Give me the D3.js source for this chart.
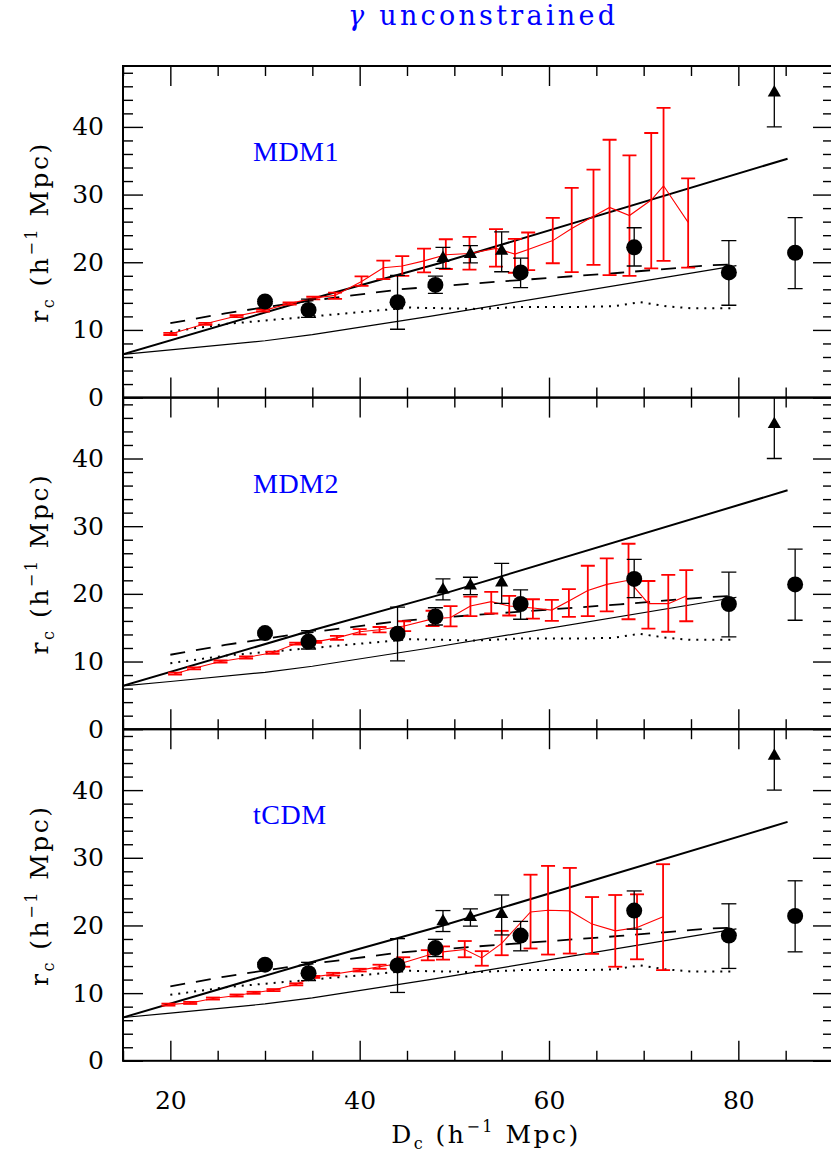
<!DOCTYPE html>
<html><head><meta charset="utf-8">
<script src="https://cdn.jsdelivr.net/npm/d3@7"></script>
<style>body{margin:0;background:#fff}</style>
</head><body>
<svg id="c" width="831" height="1159" xmlns="http://www.w3.org/2000/svg"></svg>
<script>
// ---------- data ----------
const panelNames = ["MDM1", "MDM2", "tCDM"];
const yMajorTicks = [0, 10, 20, 30, 40];
const xMajorTicks = [20, 40, 60, 80];

// observed clusters (same in every panel)
const circleD  = [30, 34.6, 44, 48, 57, 69, 79, 86];
const circleR  = [14.2, 12.95, 14.1, 16.65, 18.5, 22.2, 18.5, 21.4];
const circleLo = [13.9, 11.85, 10.1, 15.4, 16.25, 19.45, 13.65, 16.1];
const circleHi = [14.5, 14.55, 18.05, 17.95, 20.6, 25.1, 23.2, 26.6];
const triD  = [48.8, 51.7, 55, 83.8];
const triR  = [20.75, 21.35, 21.8, 45.2];
const triLo = [19.1, 19.9, 18.6, 40.0];
const triHi = [22.2, 22.45, 24.5, 52];

// reference curves (same in every panel)
const thickD = [15, 34.7, 48.8, 85.2];
const thickR = [6.4, 14.5, 20.0, 35.3];
const thinD  = [15, 20, 30, 35, 47.4, 79.8];
const thinR  = [6.4, 7.05, 8.4, 9.3, 12.0, 19.5];
const dashD  = [20, 25.8, 32.6, 38.1, 44.3, 52.4, 67.5, 77, 79.8];
const dashR  = [11.0, 12.45, 13.9, 14.9, 16.0, 16.9, 18.45, 19.55, 19.7];
const dotD   = [20, 26, 34.6, 45.3, 52.4, 57, 63.3, 66.8, 69.6, 72.4, 75, 79.4];
const dotR   = [9.75, 10.9, 11.95, 13.3, 13.1, 13.4, 13.4, 13.5, 14.1, 13.5, 13.2, 13.2];

// model (red) series
const mdm1D  = [20, 23.7, 27, 29.8, 32.6, 35.1, 37.4, 40.2, 42.5, 44.5, 46.8, 49.1, 51.6, 54.4, 56.4, 57.8, 60.4, 62.4, 64.7, 66.4, 68.5, 70.8, 72.1, 74.7];
const mdm1R  = [9.4, 10.9, 12.05, 12.85, 13.9, 14.7, 15.1, 17.15, 19.2, 19.45, 20.2, 21.1, 21.3, 22.05, 21.2, 21.9, 23.2, 25.0, 26.8, 28.1, 26.9, 29.2, 31.3, 25.9];
const mdm1Lo = [9.25, 10.75, 11.9, 12.7, 13.75, 14.5, 14.6, 16.5, 17.5, 18.0, 18.5, 19.0, 18.9, 19.35, 18.45, 18.85, 19.85, 18.55, 19.6, 18.1, 18.0, 19.1, 20.2, 19.2];
const mdm1Hi = [9.55, 11.05, 12.2, 13.0, 14.05, 14.9, 15.5, 17.9, 20.25, 20.9, 22.0, 23.4, 23.75, 24.9, 23.45, 24.4, 26.55, 31.0, 33.7, 38.1, 35.8, 39.1, 42.8, 32.4];

const mdm2D  = [20.5, 22.5, 25.3, 28, 30.8, 33.3, 35.3, 37.6, 40, 42.1, 44.7, 47.7, 49.6, 51.7, 53.9, 55.8, 58.3, 60.3, 62.1, 64.1, 66.1, 68.4, 70.5, 72.6, 74.5];
const mdm2R  = [8.2, 9.0, 10.0, 10.6, 11.3, 12.65, 12.9, 13.5, 14.4, 14.7, 15.25, 16.3, 16.5, 18.2, 18.85, 18.2, 17.9, 17.6, 18.95, 20.5, 21.4, 22.0, 18.55, 18.55, 19.7];
const mdm2Lo = [8.05, 8.85, 9.85, 10.45, 11.15, 12.5, 12.75, 13.2, 14.0, 14.3, 14.5, 15.25, 15.2, 16.7, 17.1, 16.8, 16.35, 16.0, 16.6, 16.7, 17.4, 16.25, 14.85, 14.4, 15.95];
const mdm2Hi = [8.35, 9.15, 10.15, 10.75, 11.45, 12.8, 13.05, 13.8, 14.8, 15.1, 15.95, 17.5, 18.2, 19.6, 20.3, 19.7, 19.2, 19.1, 20.7, 24.15, 25.25, 27.4, 21.9, 22.8, 23.5];

const tcdmD  = [19.8, 22.1, 24.5, 27, 28.8, 30.9, 33.3, 35.1, 37.2, 40, 42.1, 44.6, 47.2, 48.8, 51.1, 52.9, 55, 58.05, 59.9, 62.2, 64.55, 67.0, 69.3, 72.05];
const tcdmR  = [8.3, 8.55, 9.2, 9.65, 10.05, 10.45, 11.3, 12.4, 12.8, 13.4, 13.9, 14.5, 15.6, 16.1, 16.45, 15.2, 17.35, 22.0, 22.25, 22.15, 20.2, 19.2, 19.7, 21.3];
const tcdmLo = [8.15, 8.4, 9.05, 9.5, 9.9, 10.3, 11.15, 12.25, 12.6, 13.2, 13.6, 13.9, 14.85, 14.95, 15.3, 14.05, 15.6, 16.6, 15.7, 15.85, 15.8, 13.9, 15.0, 13.4];
const tcdmHi = [8.45, 8.7, 9.35, 9.8, 10.2, 10.6, 11.45, 12.55, 13.0, 13.6, 14.2, 15.3, 16.35, 16.9, 17.7, 16.2, 19.2, 27.5, 28.8, 28.5, 24.2, 24.5, 24.6, 29.05];

const models = [
  {D: mdm1D, R: mdm1R, Lo: mdm1Lo, Hi: mdm1Hi},
  {D: mdm2D, R: mdm2R, Lo: mdm2Lo, Hi: mdm2Hi},
  {D: tcdmD, R: tcdmR, Lo: tcdmLo, Hi: tcdmHi}
];

// ---------- layout ----------
const svg = d3.select("#c");
const left = 123, right = 833, top0 = 66, panelH = 331.6;
const FONT = "'DejaVu Serif', serif";
const x = d3.scaleLinear().domain([15, 90]).range([left, right]);
const xMinor = d3.range(15, 91, 5).filter(v => v % 20 !== 0);
const yMinor = d3.range(0, 50, 2).filter(v => v % 10 !== 0);

const zip = (a, b) => a.map((v, i) => [v, b[i]]);

function unitLabel(sel, main, sub) {
  sel.append("tspan").text(main);
  sel.append("tspan").attr("font-size", 16).attr("dy", 6).text(sub);
  sel.append("tspan").attr("dy", -6).text(" (h");
  sel.append("tspan").attr("font-size", 16).attr("dy", -11).text("\u22121");
  sel.append("tspan").attr("dy", 11).text(" Mpc)");
}

panelNames.forEach((name, p) => {
  const pTop = top0 + p * panelH, pBot = pTop + panelH;
  const y = d3.scaleLinear().domain([0, 49]).range([pBot, pTop]);
  const g = svg.append("g");
  const clipId = "clip" + p;
  svg.append("clipPath").attr("id", clipId).append("rect")
    .attr("x", left).attr("y", pTop).attr("width", right - left).attr("height", panelH);
  const plot = g.append("g").attr("clip-path", `url(#${clipId})`);

  const line = d3.line().x(d => x(d[0])).y(d => y(d[1]));

  // reference curves
  plot.append("path").attr("d", line(zip(thickD, thickR)))
    .attr("fill", "none").attr("stroke", "#000").attr("stroke-width", 2);
  plot.append("path").attr("d", line(zip(thinD, thinR)))
    .attr("fill", "none").attr("stroke", "#000").attr("stroke-width", 1.2);
  plot.append("path").attr("d", line(zip(dashD, dashR)))
    .attr("fill", "none").attr("stroke", "#000").attr("stroke-width", 1.8)
    .attr("stroke-dasharray", "15,11");
  plot.append("path").attr("d", line(zip(dotD, dotR)))
    .attr("fill", "none").attr("stroke", "#000").attr("stroke-width", 2)
    .attr("stroke-dasharray", "2,6");

  // model series (red)
  const m = models[p];
  plot.append("path").attr("d", line(zip(m.D, m.R)))
    .attr("fill", "none").attr("stroke", "#ff0000").attr("stroke-width", 1.1);
  const eb = plot.append("g").attr("stroke", "#ff0000").attr("stroke-width", 1.8);
  m.D.forEach((d, i) => {
    const cx = x(d), y1 = y(m.Lo[i]), y2 = y(m.Hi[i]);
    eb.append("line").attr("x1", cx).attr("x2", cx).attr("y1", y1).attr("y2", y2);
    eb.append("line").attr("x1", cx - 7).attr("x2", cx + 7).attr("y1", y1).attr("y2", y1);
    eb.append("line").attr("x1", cx - 7).attr("x2", cx + 7).attr("y1", y2).attr("y2", y2);
  });

  // observed data
  const bk = plot.append("g").attr("stroke", "#000").attr("stroke-width", 1.3);
  function errbar(d, lo, hi) {
    const cx = x(d), y1 = y(lo), y2 = y(hi);
    bk.append("line").attr("x1", cx).attr("x2", cx).attr("y1", y1).attr("y2", y2);
    bk.append("line").attr("x1", cx - 7.5).attr("x2", cx + 7.5).attr("y1", y1).attr("y2", y1);
    bk.append("line").attr("x1", cx - 7.5).attr("x2", cx + 7.5).attr("y1", y2).attr("y2", y2);
  }
  circleD.forEach((d, i) => errbar(d, circleLo[i], circleHi[i]));
  triD.forEach((d, i) => errbar(d, triLo[i], triHi[i]));
  plot.append("g").selectAll("circle").data(circleD).join("circle")
    .attr("cx", d => x(d)).attr("cy", (d, i) => y(circleR[i])).attr("r", 8).attr("fill", "#000");
  const tri = d3.symbol().type(d3.symbolTriangle).size(75);
  plot.append("g").selectAll("path").data(triD).join("path")
    .attr("d", tri).attr("transform", (d, i) => `translate(${x(d)},${y(triR[i]) + 1})`).attr("fill", "#000");

  // axes (inward ticks on all four sides)
  const ax = g.append("g").attr("font-family", FONT);
  const fmtNone = () => "";
  const addAxis = (axis, tx, ty) => {
    const a = ax.append("g").attr("transform", `translate(${tx},${ty})`).call(axis);
    a.select(".domain").remove();
    a.selectAll(".tick line").attr("stroke", "#000").attr("stroke-width", 1.4);
    a.selectAll("text").attr("font-size", 25).attr("fill", "#000").attr("font-family", FONT);
    return a;
  };
  addAxis(d3.axisBottom(x).tickValues(xMinor).tickSize(-10).tickFormat(fmtNone), 0, pBot);
  addAxis(d3.axisBottom(x).tickValues(xMajorTicks).tickSize(-20).tickPadding(30)
    .tickFormat(p === 2 ? d3.format("d") : fmtNone), 0, pBot);
  addAxis(d3.axisTop(x).tickValues(xMinor).tickSize(-10).tickFormat(fmtNone), 0, pTop);
  addAxis(d3.axisTop(x).tickValues(xMajorTicks).tickSize(-20).tickFormat(fmtNone), 0, pTop);
  addAxis(d3.axisLeft(y).tickValues(yMinor).tickSize(-10).tickFormat(fmtNone), left, 0);
  addAxis(d3.axisLeft(y).tickValues(yMajorTicks).tickSize(-20).tickPadding(19).tickFormat(d3.format("d")), left, 0);
  addAxis(d3.axisRight(y).tickValues(yMinor).tickSize(-10).tickFormat(fmtNone), right, 0);
  addAxis(d3.axisRight(y).tickValues(yMajorTicks).tickSize(-20).tickFormat(fmtNone), right, 0);

  // frame
  g.append("rect").attr("x", left).attr("y", pTop).attr("width", right - left).attr("height", panelH)
    .attr("fill", "none").attr("stroke", "#000").attr("stroke-width", 2);

  // panel label
  g.append("text").attr("x", 253).attr("y", pTop + 95).text(name)
    .attr("font-family", "'Liberation Serif', serif").attr("font-size", 28)
    .attr("letter-spacing", 0.5).attr("fill", "#0000ff");

  // y label
  const yl = g.append("text").attr("transform", `translate(48,${pTop + 166}) rotate(-90)`)
    .attr("text-anchor", "middle").attr("font-family", FONT).attr("font-size", 25)
    .attr("letter-spacing", 2.5).attr("fill", "#000");
  unitLabel(yl, "r", "c");
});

// x label
const xl = svg.append("text").attr("x", 486).attr("y", 1143).attr("text-anchor", "middle")
  .attr("font-family", FONT).attr("font-size", 25).attr("letter-spacing", 2.5).attr("fill", "#000");
unitLabel(xl, "D", "c");

// title
const tt = svg.append("text").attr("x", 348).attr("y", 25)
  .attr("font-family", FONT).attr("font-size", 27).attr("fill", "#0000ff")
  .attr("textLength", 267).attr("lengthAdjust", "spacing");
tt.append("tspan").attr("font-style", "italic").text("\u03b3");
tt.append("tspan").text(" unconstrained");
</script>
</body></html>
